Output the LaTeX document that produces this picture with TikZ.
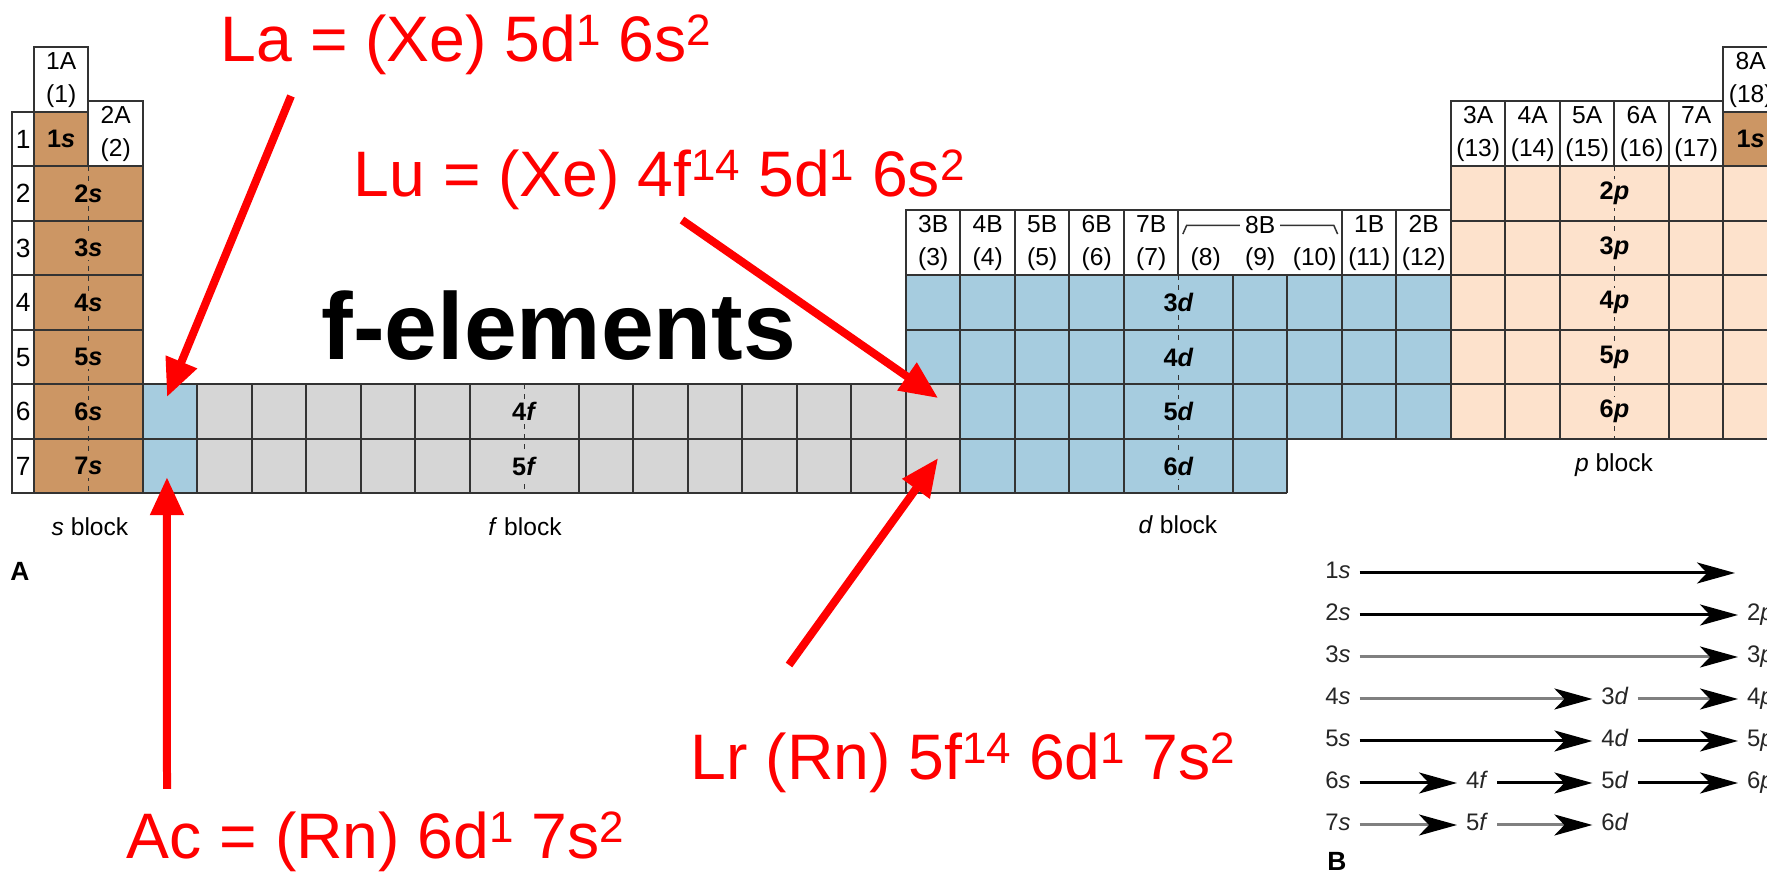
\documentclass[tikz,border=0pt]{standalone}
\usepackage{fontspec}
\setmainfont{Liberation Sans}
\usetikzlibrary{arrows.meta}
\definecolor{sfill}{HTML}{CC9664}
\definecolor{ffill}{HTML}{D6D6D6}
\definecolor{dfill}{HTML}{A6CCDF}
\definecolor{pfill}{HTML}{FDE2CC}
\definecolor{gridline}{HTML}{333333}
\definecolor{hot}{HTML}{FF0000}
\newcommand{\ocup}[1]{\raisebox{4.8pt}{\fontsize{12.5}{13}\selectfont#1}}

\begin{document}
\begin{tikzpicture}[x=0.1mm, y=-0.1mm,
rule/.style={draw=gridline, line width=0.2mm},
spine/.style={draw=gridline, line width=0.15mm, dash pattern=on 0.5mm off 0.5mm},
grp/.style={font=\fontsize{7}{9.4}\selectfont, align=center, inner sep=0},
orb/.style={font=\fontsize{7.2}{8}\selectfont\bfseries, inner sep=0.3mm},
blk/.style={font=\fontsize{7}{8}\selectfont, inner sep=0},
conf/.style={text=hot, font=\fontsize{18.3}{22}\selectfont, anchor=base west, inner sep=0},
hit/.style={draw=hot, line width=0.8mm, -{Triangle[length=3.8mm,width=3.2mm]}},
lvl/.style={font=\fontsize{6.8}{7}\selectfont, text=black!85, text height=1.6mm, text depth=0.5mm, inner sep=0, outer sep=0.9mm},
seq/.style={line width=0.3mm, -{Stealth[length=3.8mm,width=2.1mm,inset=1mm,color=black]}}]
\useasboundingbox (0,0) rectangle (1767,875);
\clip (0,0) rectangle (1767,875);

\begin{scope}[shift={(34,112)}, x=5.45mm, y=-5.45mm]
\fill[sfill] (0,0) rectangle (1,1) (0,1) rectangle (2,7) (31,0) rectangle (32,1);
\fill[dfill] (2,5) rectangle (3,7) (16,3) rectangle (26,5) (17,5) rectangle (26,6) (17,6) rectangle (23,7);
\fill[ffill] (3,5) rectangle (17,7);
\fill[pfill] (26,1) rectangle (32,6);

\foreach \r in {1,...,7}{
  \draw[rule] (-0.4,\r-1) rectangle (0,\r);
  \node[grp, font=\fontsize{7.5}{8}\selectfont] (per\r) at (-0.2,\r-0.5) {\r};
}
\draw[rule] (0,-1.2) rectangle (1,0) (1,-0.2) rectangle (2,1);
\draw[rule] (0,0) rectangle (1,1) (0,1) rectangle (2,7);
\foreach \r in {2,...,6} \draw[rule] (0,\r) -- (2,\r);

\draw[rule] (16,3) -- (26,3) (16,4) -- (26,4) (2,5) -- (26,5) (2,6) -- (26,6) (2,7) -- (23,7);
\foreach \c in {16,...,20,22,23,24,25,26} \draw[rule] (\c,3) -- (\c,5);
\foreach \c in {2,...,8,10,11,...,20,22,23} \draw[rule] (\c,5) -- (\c,7);
\draw[rule] (24,5) -- (24,6) (25,5) -- (25,6) (26,5) -- (26,6);

\foreach \r in {1,...,6} \draw[rule] (26,\r) -- (32,\r);
\foreach \c in {26,27,28,30,31,32} \draw[rule] (\c,1) -- (\c,6);
\draw[rule] (26,-0.2) rectangle (31,1) (31,-1.2) rectangle (32,0) (31,0) rectangle (32,1);
\foreach \c in {27,...,30} \draw[rule] (\c,-0.2) -- (\c,1);
\draw[rule] (16,1.8) rectangle (26,3);
\foreach \c in {17,...,21,24,25} \draw[rule] (\c,1.8) -- (\c,3);

\draw[spine] (1,1) -- (1,7) (9,5) -- (9,7) (21,3) -- (21,7) (29,1) -- (29,6);

\node[grp] (g1) at (0.5,-0.6) {\strut 1A\\\strut(1)};
\node[grp] (g2) at (1.5,0.4) {\strut 2A\\\strut(2)};
\node[grp] (g18) at (31.5,-0.6) {\strut 8A\\\strut(18)};
\foreach \c/\g/\n in {26/3A/13,27/4A/14,28/5A/15,29/6A/16,30/7A/17}
  \node[grp] (g\n) at (\c+0.5,0.4) {\strut\g\\\strut(\n)};
\foreach \c/\g/\n in {16/3B/3,17/4B/4,18/5B/5,19/6B/6,20/7B/7,21//8,22//9,23//10,24/1B/11,25/2B/12}
  \node[grp] (g\n) at (\c+0.5,2.4) {\strut\g\\\strut(\n)};
\draw[gridline, line width=0.15mm] (21.08,2.24) -- (21.15,2.08) -- (23.85,2.08) -- (23.92,2.24);
\node[grp, fill=white, inner xsep=0.5mm] (g8B) at (22.5,2.08) {8B};

\node[orb, fill=sfill] (t-1s) at (0.5,0.5) {1\textit{s}};
\foreach \r in {2,...,7} \node[orb, fill=sfill] (t-\r s) at (1,\r-0.5) {\r\textit{s}};
\node[orb, fill=ffill] (t-4f) at (9,5.5) {4\textit{f}};
\node[orb, fill=ffill] (t-5f) at (9,6.5) {5\textit{f}};
\foreach \r/\n in {4/3,5/4,6/5,7/6} \node[orb, fill=dfill] (t-\n d) at (21,\r-0.5) {\n\textit{d}};
\foreach \r in {2,...,6} \node[orb, fill=pfill] (t-\r p) at (29,\r-0.5) {\r\textit{p}};
\node[orb, fill=sfill] (t-1s8) at (31.5,0.5) {1\textit{s}};

\coordinate (la-hit) at (2.44,5.23);
\coordinate (ac-hit) at (2.44,6.70);
\coordinate (lu-hit) at (16.59,5.25);
\coordinate (lr-hit) at (16.59,6.35);
\end{scope}

\node[blk] (sblock) at (90,527) {\textit{s} block};
\node[blk] (fblock) at (525,527) {\textit{f} block};
\node[blk] (dblock) at (1178,525) {\textit{d} block};
\node[blk] (pblock) at (1614,465) {\textit{p} block};
\node[blk, font=\fontsize{7.5}{8}\selectfont\bfseries] (partA) at (20,571) {A};
\node[blk, font=\fontsize{7.5}{8}\selectfont\bfseries] (partB) at (1337,861) {B};

\node[anchor=base west, inner sep=0, font=\fontsize{27}{30}\selectfont\bfseries] (felem) at (321,360) {f-elements};
\node[conf] (la) at (220,62) {La = (Xe) 5d\ocup{1} 6s\ocup{2}};
\node[conf] (lu) at (353,197) {Lu = (Xe) 4f\ocup{14} 5d\ocup{1} 6s\ocup{2}};
\node[conf] (ac) at (126,859) {Ac = (Rn) 6d\ocup{1} 7s\ocup{2}};
\node[conf] (lr) at (690,780) {Lr (Rn) 5f\ocup{14} 6d\ocup{1} 7s\ocup{2}};
\coordinate (la-tail) at (291,96);
\coordinate (lu-tail) at (682,220);
\coordinate (ac-tail) at (167,789);
\coordinate (lr-tail) at (789,665);
\draw[hit] (la-tail) -- (la-hit);
\draw[hit] (lu-tail) -- (lu-hit);
\draw[hit] (ac-tail) -- (ac-hit);
\draw[hit] (lr-tail) -- (lr-hit);

\foreach \n/\y in {1/573,2/615,3/657,4/699,5/741,6/783,7/825}
  \node[lvl] (ns\n) at (1338,\y) {\n\textit{s}};
\foreach \n/\y in {2/615,3/657,4/699,5/741,6/783}
  \node[lvl, anchor=west] (np\n) at (1738,\y) {\n\textit{p}};
\foreach \n/\y in {3/699,4/741,5/783,6/825}
  \node[lvl] (nd\n) at (1615,\y) {\n\textit{d}};
\node[lvl] (nf4) at (1477,783) {4\textit{f}};
\node[lvl] (nf5) at (1477,825) {5\textit{f}};
\coordinate (n1end) at (1735,573);
\draw[seq] (ns1) -- (n1end);
\draw[seq] (ns2) -- (np2);
\draw[seq, black!50] (ns3) -- (np3);
\draw[seq, black!50] (ns4) -- (nd3);
\draw[seq, black!50] (nd3) -- (np4);
\draw[seq] (ns5) -- (nd4);
\draw[seq] (nd4) -- (np5);
\draw[seq] (ns6) -- (nf4);
\draw[seq] (nf4) -- (nd5);
\draw[seq] (nd5) -- (np6);
\draw[seq, black!50] (ns7) -- (nf5);
\draw[seq, black!50] (nf5) -- (nd6);
\end{tikzpicture}
\end{document}
